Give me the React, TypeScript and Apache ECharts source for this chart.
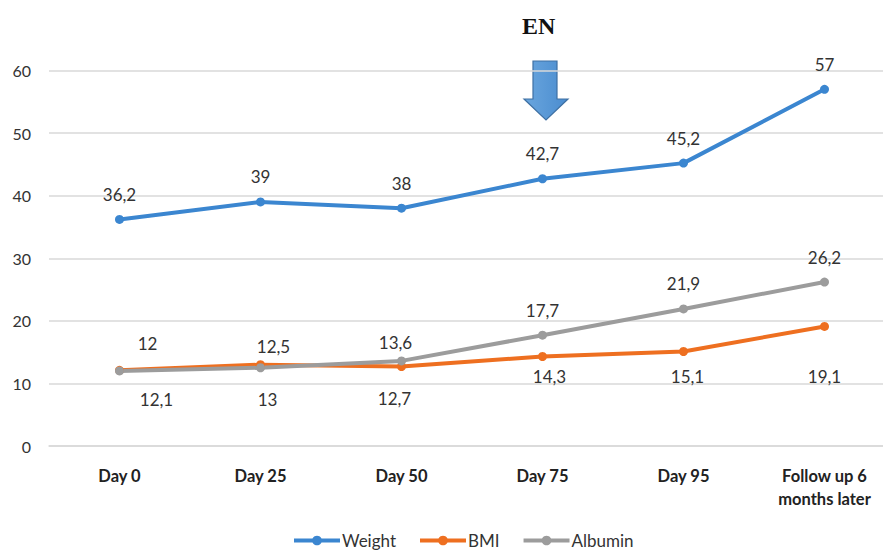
import React, { useEffect, useRef } from "react";
import * as echarts from "echarts";

const categories = ["Day 0", "Day 25", "Day 50", "Day 75", "Day 95", "Follow up 6\nmonths later"];
const weight = [36.2, 39, 38, 42.7, 45.2, 57];
const bmi = [12.1, 13, 12.7, 14.3, 15.1, 19.1];
const albumin = [12, 12.5, 13.6, 17.7, 21.9, 26.2];
const yTicks = { min: 0, max: 60, interval: 10 };
const annotationText = "EN";

const FONT = "Lato";
const fmt = (p: any) => String(p.value).replace(".", ",");

export default function App() {
  const ref = useRef<HTMLDivElement>(null);
  useEffect(() => {
    if (!ref.current) return;
    const chart = echarts.init(ref.current, null, { renderer: "svg" });
    const albOffsets = [[28, -2], [13, 4], [-6, 7], [0, 0], [0, 0], [0, 0]];
    const bmiOffsets = [[37, 4], [7, 10], [-7, 7], [7, -5], [4, 0], [0, 25]];
    const labelBase = { show: true, fontFamily: FONT, fontSize: 17, color: "#333", formatter: fmt, distance: 12 };
    chart.setOption({
      animation: false,
      grid: { left: 49, right: -12, top: 70.5, bottom: 105, outerBoundsMode: "none", containLabel: false },
      legend: {
        top: 532,
        left: 292,
        padding: 0,
        itemWidth: 46,
        itemHeight: 12,
        itemGap: 22,
        lineStyle: { width: 4 },
        textStyle: { fontFamily: FONT, fontSize: 17, color: "#333", padding: [0, 0, 0, -3] },
        data: ["Weight", "BMI", "Albumin"],
      },
      xAxis: {
        type: "category",
        data: categories,
        boundaryGap: true,
        axisLine: { show: true, lineStyle: { color: "#D9D9D9", width: 1.5 } },
        axisTick: { show: false },
        axisLabel: { fontFamily: FONT, fontSize: 16.5, fontWeight: "bold", color: "#222", margin: 18, lineHeight: 23 },
      },
      yAxis: {
        type: "value",
        min: yTicks.min,
        max: yTicks.max,
        interval: yTicks.interval,
        axisLine: { show: false },
        axisTick: { show: false },
        splitLine: { lineStyle: { color: "#D9D9D9", width: 1.5 } },
        axisLabel: { fontFamily: FONT, fontSize: 16, color: "#333", margin: 18 },
      },
      series: [
        {
          name: "Weight",
          type: "line",
          data: weight,
          symbol: "circle",
          symbolSize: 9,
          color: "#3B86D0",
          lineStyle: { width: 4 },
          label: { ...labelBase, position: "top" },
        },
        {
          name: "BMI",
          type: "line",
          data: bmi.map((v, i) => ({ value: v, label: { offset: bmiOffsets[i] } })),
          symbol: "circle",
          symbolSize: 9,
          color: "#EE6F20",
          lineStyle: { width: 4 },
          label: { ...labelBase, position: "bottom" },
        },
        {
          name: "Albumin",
          type: "line",
          data: albumin.map((v, i) => ({ value: v, label: { offset: albOffsets[i] } })),
          symbol: "circle",
          symbolSize: 9,
          color: "#9C9C9C",
          lineStyle: { width: 4 },
          label: { ...labelBase, position: "top" },
        },
      ],
      graphic: [
        {
          type: "text",
          left: 522,
          top: 14,
          style: { text: annotationText, font: "bold 24px 'Liberation Serif'", fill: "#111" },
        },
        {
          type: "polygon",
          shape: {
            points: [[533, 61], [557, 61], [557, 99], [568, 99], [546, 120], [524, 99], [533, 99]],
          },
          style: {
            fill: new echarts.graphic.LinearGradient(0, 0, 1, 0, [
              { offset: 0, color: "#6AA6DE" },
              { offset: 1, color: "#4A8CCF" },
            ]),
            stroke: "#3E70A3",
            lineWidth: 1.2,
          },
        },
      ],
    });
    return () => chart.dispose();
  }, []);
  return <div ref={ref} style={{ position: "absolute", left: 0, top: 0, width: 883, height: 551 }} />;
}
